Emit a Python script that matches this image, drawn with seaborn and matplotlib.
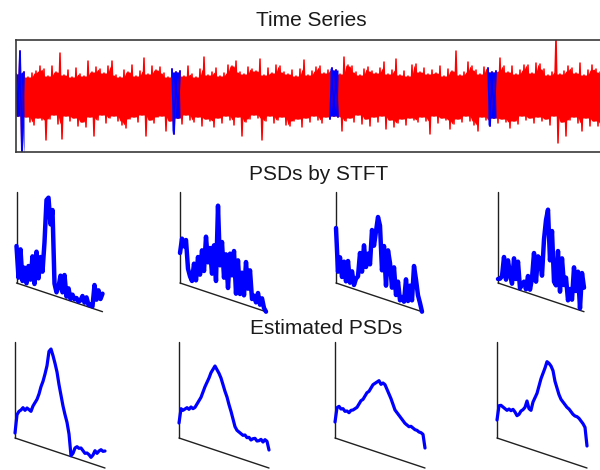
import matplotlib
matplotlib.use("Agg")
import matplotlib.pyplot as plt
from matplotlib.transforms import Affine2D
import numpy as np
import pandas as pd
import seaborn as sns

# ------------------------------------------------------------------------------
# Data
# ------------------------------------------------------------------------------
# time series amplitude, one value per sample
time_series = [
    22, -20, 45, -60, 24, -21, 19, -26, 23, -29,
    25, -22, 30, -24, 27, -44, 20, -23, 30, -19,
    24, -28, 43, -43, 21, -20, 26, -25, 19, -22,
    28, -30, 22, -26, 20, -31, 35, -21, 24, -40,
    29, -24, 27, -19, 23, -27, 30, -22, 35, -20,
    21, -25, 19, -29, 26, -32, 24, -23, 31, -21,
    20, -26, 25, -19, 38, -40, 22, -24, 30, -27,
    26, -21, 29, -20, 23, -35, 19, -25, 27, -38,
    24, -22, 25, -28, 20, -19, 30, -24, 22, -26,
    19, -21, 27, -30, 39, -23, 21, -25, 24, -31,
    28, -22, 20, -27, 23, -20, 31, -24, 30, -29,
    35, -21, 24, -40, 22, -26, 29, -23, 27, -19,
    25, -22, 37, -44, 21, -25, 28, -20, 23, -27,
    31, -24, 30, -21, 24, -29, 22, -30, 26, -25,
    20, -23, 27, -31, 36, -22, 21, -26, 25, -20,
    29, -24, 30, -27, 23, -21, 26, -23, 28, -20,
    26, -21, 22, -35, 39, -25, 31, -22, 30, -26,
    24, -19, 21, -28, 27, -23, 29, -30, 25, -21,
    23, -26, 28, -20, 34, -33, 22, -24, 26, -31,
    37, -27, 21, -23, 25, -29, 20, -22, 31, -24,
    32, -26, 24, -21, 28, -25, 22, -38, 26, -20,
    23, -27, 30, -22, 20, -24, 27, -33, 25, -28,
    45, -23, 21, -26, 24, -20, 34, -25, 30, -29,
    26, -35, 22, -21, 29, -24, 28, -30, 24, -22,
    25, -27, 38, -23, 30, -26, 24, -32, 30, -25,
    22, -28, 26, -20, 31, -24, 31, -22, 23, -27,
    33, -21, 32, -25, 27, -23, 21, -29, 24, -20,
    60, -47, 22, -26, 25, -40, 30, -24, 28, -21,
    23, -27, 33, -35, 21, -22, 26, -30, 31, -25,
    27, -30, 24, -28, 22, -23, 29, -21, 25, -26,
]
window_starts = [0, 78, 157, 236]
window_len = 5

# PSDs by STFT (44 frequency bins each)
stft_psd_1 = [37, 6, 35, 4, 18, 3, 21, 8, 32, 5, 38, 12, 34, 20, 50, 93, 96, 70, 85, 12, 4, 10,
              22, 6, 24, 3, 12, 2, 7, 3, 5, 2, 4, 9, 3, 9, 2, 3, 2, 24, 10, 20, 12, 18]
stft_psd_2 = [30, 45, 38, 45, 17, 10, 6, 24, 8, 32, 15, 40, 20, 55, 30, 45, 20, 49, 14, 90, 31, 55,
              20, 44, 11, 46, 25, 50, 8, 42, 9, 31, 9, 43, 17, 36, 8, 12, 6, 16, 5, 12, 3, 0]
stft_psd_3 = [55, 12, 27, 8, 24, 5, 26, 5, 17, 4, 11, 14, 38, 20, 47, 26, 40, 30, 65, 50, 65, 80,
              72, 28, 53, 14, 50, 38, 14, 35, 8, 22, 4, 8, 4, 27, 6, 22, 8, 43, 30, 15, 8, 0]
stft_psd_4 = [4, 5, 8, 28, 6, 26, 13, 4, 30, 10, 28, 2, 7, 10, 3, 17, 4, 16, 42, 14, 40, 38,
              22, 59, 79, 90, 40, 70, 20, 17, 52, 12, 46, 20, 28, 6, 18, 8, 41, 18, 38, 2, 38, 24]

# Estimated PSDs (46 frequency bins each)
est_psd_1 = [5, 24, 28, 30, 33, 31, 34, 33, 32, 38, 42, 46, 52, 60, 66, 74, 83, 98, 101, 95, 88, 80,
             68, 58, 48, 40, 33, 22, 1, 4, 10, 12, 11, 12, 10, 8, 9, 8, 6, 9, 14, 12, 15, 17, 16, 17]
est_psd_2 = [15, 30, 29, 31, 33, 32, 35, 34, 36, 40, 44, 48, 54, 60, 65, 70, 76, 80, 84, 81, 78, 74,
             68, 62, 57, 50, 44, 37, 30, 27, 26, 25, 24, 25, 23, 24, 22, 24, 25, 23, 24, 26, 24, 27, 26, 18]
est_psd_3 = [16, 31, 33, 31, 32, 30, 31, 30, 33, 34, 36, 38, 42, 46, 48, 52, 56, 58, 62, 66, 68, 70,
             72, 69, 71, 70, 66, 62, 58, 53, 48, 46, 44, 42, 40, 38, 37, 36, 37, 36, 35, 35, 34, 34, 33, 20]
est_psd_4 = [18, 33, 34, 33, 32, 31, 33, 32, 34, 32, 29, 31, 35, 37, 40, 47, 40, 39, 48, 53, 58, 66,
             74, 80, 86, 93, 92, 90, 86, 76, 70, 64, 60, 58, 56, 54, 53, 51, 49, 48, 48, 47, 45, 43, 40, 22]

stft_psds = [stft_psd_1, stft_psd_2, stft_psd_3, stft_psd_4]
est_psds = [est_psd_1, est_psd_2, est_psd_3, est_psd_4]
row_titles = ["Time Series", "PSDs by STFT", "Estimated PSDs"]

# ------------------------------------------------------------------------------
# Layout (pixels of the 600x470 canvas)
# ------------------------------------------------------------------------------
FIG_W, FIG_H = 600, 470
stft_origins = [(16.5, 283), (180, 283), (336, 283), (498, 283)]
est_origins = [(15, 438), (179, 438), (335, 438), (497, 438)]
stft_axis_h = 91
est_axis_h = 96
slope = 0.667  # drop of the frequency axis per bin (3-D look)

sns.set_style("white")
plt.rcParams["font.family"] = ["Liberation Sans", "DejaVu Sans"]

fig = plt.figure(figsize=(FIG_W / 100, FIG_H / 100), dpi=100)


def px_axes(left, top, width, height):
    return fig.add_axes([left / FIG_W, 1 - (top + height) / FIG_H, width / FIG_W, height / FIG_H])


def draw_psd(origin, values, axis_h, lw):
    x0, y0 = origin
    n = len(values)
    ax = px_axes(x0 - 5, y0 - 110, 2 * n + 10, 150)
    ax.axis("off")
    shear = Affine2D().from_values(1, -slope, 0, 1, 0, 0) + ax.transData
    # axis lines
    ax.plot([0, 0], [0, axis_h], color="#202020", lw=1.0, transform=shear, clip_on=False)
    ax.plot([0, n - 1], [0, 0], color="#202020", lw=1.0, transform=shear, clip_on=False)
    sns.lineplot(x=np.arange(n), y=values, ax=ax, color="blue", lw=lw,
                 estimator=None, transform=shear, clip_on=False)
    ax.set_xlim(-2.5, n + 2.5)
    ax.set_ylim(-40, 110)


def draw_signal(ax, x, y, color, lw):
    s = pd.Series(y, index=x, dtype=float)
    # dense core of the trace: smallest swing among neighbouring samples
    core_hi = s.where(s > 0).rolling(5, center=True, min_periods=1).min()
    core_lo = s.where(s < 0).rolling(5, center=True, min_periods=1).max()
    ax.fill_between(x, core_lo.values, core_hi.values, color=color, lw=0)
    sns.lineplot(x=x, y=y, ax=ax, color=color, lw=lw, estimator=None)


# --- Time series panel ---
ax_ts = px_axes(16, 40, 600, 112)
n_ts = len(time_series)
idx = np.arange(n_ts)
draw_signal(ax_ts, idx, time_series, "red", 1.1)
for s in window_starts:
    seg = np.arange(s, s + window_len)
    draw_signal(ax_ts, seg, [time_series[i] for i in seg], "blue", 1.3)
ax_ts.set_xlim(0, n_ts)
ax_ts.set_ylim(-56, 56)
ax_ts.set_xticks([])
ax_ts.set_yticks([])
ax_ts.set_xlabel("")
ax_ts.set_ylabel("")
for sp in ax_ts.spines.values():
    sp.set_visible(True)
    sp.set_color("#3a3a3a")
    sp.set_linewidth(1.2)

# --- PSD rows ---
for org, vals in zip(stft_origins, stft_psds):
    draw_psd(org, vals, stft_axis_h, 3.2)
for org, vals in zip(est_origins, est_psds):
    draw_psd(org, vals, est_axis_h, 2.3)

# --- Row titles ---
title_pos = [(311, 26), (319, 180), (326, 334)]
for (tx, ty), t in zip(title_pos, row_titles):
    fig.text(tx / FIG_W, 1 - ty / FIG_H, t, ha="center", va="baseline",
             fontsize=15, color="#1a1a1a")

fig.savefig("out.png", dpi=100)
